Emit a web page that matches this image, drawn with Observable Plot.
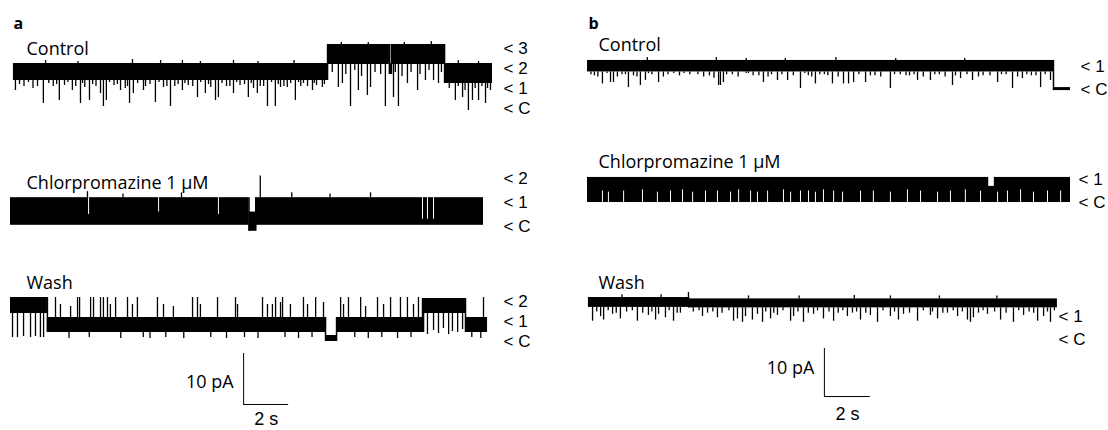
<!DOCTYPE html>
<html><head><meta charset="utf-8">
<script src="https://cdn.jsdelivr.net/npm/d3@7"></script>
<script src="https://cdn.jsdelivr.net/npm/@observablehq/plot@0.6"></script>
<style>
body{margin:0;background:#fff;}
#fig{position:relative;width:1108px;height:430px;overflow:hidden;background:#fff;}
#fig > div{position:absolute;top:0;}
g[aria-label="title"] text, g[aria-label="scalelabel"] text{letter-spacing:1.5px;}
</style></head><body>
<div id="fig"><div id="pa" style="left:0px"></div><div id="pb" style="left:560px"></div></div>
<script>
// ---------- DATA (time in s, amplitude in channel levels; unit = pA per open channel) ----------
// segments: [tStart, tEnd, level, bandTop, bandBottom]
const ctrlA_levels = [[0.13,14.09,2,2.15,1.3],[14.09,16.84,3,3.1,2.1],[16.84,16.93,2,2.15,1.6],[16.93,19.29,3,3.1,2.1],[19.29,21.42,2,2.15,1.15]];
// brief closures: [t, level reached]
const ctrlA_dips = [[0.22,0.8],[1.46,0.15],[2.17,0.3],[2.75,0.8],[3.11,0.15],[3.51,0.3],[4.0,0.65],[4.13,0],[4.26,0.3],[4.89,0.8],[5.29,0.15],[5.46,0.65],[5.91,0.8],[6.44,0.2],[7.11,0],[7.64,0.8],[8.31,0.45],[8.66,0.65],[9.11,0.3],[9.24,0.45],[9.91,0.65],[10.57,0.45],[10.97,0.65],[11.42,0],[11.77,0],[12.0,0.95],[12.66,0.3],[13.02,1.15],[13.42,0.8],[13.86,0.95],
[0.6,1.0],[1.0,0.9],[1.9,1.0],[2.4,1.05],[3.3,0.95],[3.8,1.0],[4.6,1.05],[5.1,0.9],[6.0,1.0],[6.8,0.95],[7.3,1.0],[7.9,1.05],[8.9,0.95],[9.6,1.0],[10.2,1.05],[10.8,0.9],[11.1,1.0],[12.3,0.95],[12.9,1.0],[13.6,1.05],
[0.4,1.1],[0.8,1.2],[1.2,1.0],[1.7,1.15],[2.05,1.1],[2.55,1.2],[2.9,1.0],[3.2,1.15],[3.65,1.1],[4.4,1.2],[4.75,1.1],[5.2,1.0],[5.65,1.15],[6.2,1.1],[6.6,1.2],[6.95,1.0],[7.45,1.1],[7.75,1.15],[8.1,1.0],[8.45,1.2],[8.8,1.1],[9.4,1.15],[9.75,1.0],[10.05,1.2],[10.4,1.1],[10.7,1.15],[11.25,1.0],[11.6,1.2],[11.9,1.1],[12.15,1.0],[12.45,1.15],[12.8,1.2],[13.2,1.0],[13.5,1.15],[13.95,1.1],
[14.57,0.95],[14.75,1.15],[15.11,0],[15.46,0.8],[15.86,0.55],[16.0,0.95],[16.66,0],[17.02,0.45],[17.24,0],[17.64,1.15],[18.09,0.8],[18.44,1.3],[18.8,1.3],[19.02,1.15],
[14.3,1.7],[14.9,1.6],[15.3,1.8],[15.6,1.5],[16.2,1.7],[16.45,1.6],[17.1,1.7],[17.4,1.5],[17.8,1.7],[18.2,1.6],[18.6,1.8],[19.15,1.7],
[19.77,0.3],[20.09,0.45],[20.35,-0.2],[20.53,0.3],[20.8,0.3],[21.11,0.15],[21.33,0.8],
[19.5,0.9],[19.9,1.0],[20.2,0.8],[20.65,0.9],[20.95,1.0],[21.2,0.9]];
// small noise excursions above the open level: [t, level reached]
const ctrlA_ups = [[1.56,2.3],[3.0,2.25],[5.42,2.35],[6.67,2.3],[7.64,2.3],[8.44,2.25],[9.91,2.3],[11.0,2.25],[12.6,2.3],[14.7,3.2],[15.9,3.2],[17.5,3.2],[18.7,3.25],[19.9,2.3],[20.8,2.25]];
const ctrlA_ticks = [3,2,1,0];
const ctrlA_tickLabels = ["< 3","< 2","< 1","< C"];

const chlorA_levels = [[0,10.6,1,1.2,0.05],[10.6,10.9,0,0.6,-0.2],[10.9,21.02,1,1.2,0.05]];
const chlorA_ups = [[3.42,1.45],[5.0,1.35],[7.6,1.4],[11.1,2.1],[12.5,1.4],[14.2,1.35],[16.0,1.4]];
// short periods without flicker: [t, from level, to level]
const chlorA_gaps = [[3.47,1.2,0.5],[6.58,1.2,0.6],[9.24,1.2,0.5],[18.31,1.2,0.3],[18.53,1.2,0.3],[18.8,1.2,0.3]];
const chlorA_ticks = [2,1,0];
const chlorA_tickLabels = ["< 2","< 1","< C"];

const washA_levels = [[0,1.64,2,2.05,1.25],[1.64,14.0,1,1.05,0.3],[14.0,14.49,0,0.15,-0.15],[14.49,18.31,1,1.05,0.3],[18.31,20.22,2,2.0,1.25],[20.22,21.2,1,1.05,0.3]];
const washA_dips = [[0.09,0.05],[0.31,0.05],[0.58,0.1],[0.89,0.05],[1.11,0.1],[1.33,0.05],[1.47,0.05],
[2.6,0.0],[3.5,0.05],[4.9,0.0],[5.9,0.05],[6.2,0.0],[6.9,0.05],[7.7,0.0],[8.9,0.05],[9.6,0],[10.4,0.05],[11.0,0],[12.2,0.05],[12.8,0],[13.4,0.05],[15.3,0.05],[15.9,0],[16.5,0.05],[17.2,0],[17.8,0.05],
[18.36,0.3],[18.53,0.2],[18.8,0.4],[19.02,0.25],[19.24,0.5],[19.47,0.2],[19.64,0.35],[19.87,0.3],[20.09,0.45],[20.5,0.05],[20.9,0]];
const washA_ups = [[2.0,2.05],[2.22,1.7],[2.67,1.6],[2.98,2.05],[3.07,2.05],[3.56,2.05],[3.69,2.05],[4.0,2.05],[4.13,2.05],[4.31,2.05],[4.44,1.7],[4.67,2.05],[5.2,2.05],[5.42,1.7],[5.64,2.05],[6.53,2.05],[6.8,1.7],[7.24,1.6],[8.09,2.05],[8.31,2.05],[8.44,1.7],[9.2,2.05],[10.0,2.05],[10.09,1.7],[11.2,2.05],[11.42,1.7],[11.64,1.7],[11.78,2.05],[12.0,1.8],[12.09,2.05],[12.44,1.7],[13.02,2.05],[13.2,1.7],[13.56,2.05],[13.91,1.8],[14.67,2.05],[14.8,1.7],[15.02,2.05],[15.56,2.05],[15.78,1.6],[16.31,2.05],[16.58,1.7],[16.89,2.05],[17.33,2.05],[17.64,2.05],[17.91,1.7],[18.13,2.05],[21.02,2.05]];
const washA_ticks = [2,1,0];
const washA_tickLabels = ["< 2","< 1","< C"];

const ctrlB_levels = [[0,20.26,1,1.22,0.72],[20.26,21.0,0,0.04,-0.09]];
const ctrlB_dips = [[0.65,0.2],[1.0,0.26],[1.13,0.26],[1.78,0.04],[2.3,0.13],[2.52,0.35],[3.09,0.26],[5.7,0.13],[5.78,0.13],[5.91,0.26],[7.65,0.26],[8.26,0.35],[8.7,0.35],[9.26,0],[9.91,0.2],[10.65,0.2],[11.13,0.2],[11.35,0.2],[11.57,0.26],[12.09,0.26],[13.17,0],[14.35,0.35],[14.91,0.35],[15.87,0.13],[16.22,0.43],[16.74,0.35],[17.83,0.26],[18.48,0],[18.91,0.43],[19.7,0.04],[20.13,0.35],
[0.3,0.55],[1.5,0.6],[2.0,0.55],[2.8,0.6],[3.5,0.6],[4.2,0.65],[4.8,0.6],[5.3,0.55],[6.3,0.6],[6.9,0.65],[7.2,0.55],[8.0,0.6],[9.6,0.55],[10.3,0.6],[12.5,0.55],[13.6,0.6],[14.0,0.55],[15.3,0.6],[17.2,0.55],[18.2,0.6],[19.3,0.55],
[0.15,0.6],[0.45,0.5],[0.85,0.65],[1.3,0.5],[1.65,0.6],[2.15,0.5],[2.65,0.65],[3.3,0.5],[3.75,0.65],[4.0,0.55],[4.45,0.6],[5.05,0.5],[5.5,0.45],[6.05,0.6],[6.55,0.5],[7.0,0.65],[7.45,0.55],[7.85,0.5],[8.45,0.6],[8.95,0.55],[9.45,0.65],[9.75,0.5],[10.1,0.6],[10.45,0.55],[10.9,0.5],[11.8,0.6],[12.3,0.55],[12.75,0.5],[13.35,0.6],[13.85,0.55],[14.2,0.6],[14.6,0.5],[15.1,0.6],[15.55,0.5],[16.0,0.55],[16.5,0.6],[17.0,0.5],[17.5,0.55],[18.0,0.6],[18.7,0.5],[19.1,0.6],[19.5,0.55],[19.9,0.6]];
const ctrlB_ups = [[2.6,1.35],[5.6,1.35],[6.9,1.3],[8.6,1.3],[10.8,1.35],[13.4,1.3],[16.4,1.3]];
const ctrlB_ticks = [1,0];
const ctrlB_tickLabels = ["< 1","< C"];

const chlorB_levels = [[0,17.39,1,1.09,0],[17.39,17.7,1,0.7,0],[17.7,21.0,1,1.09,0]];
const chlorB_gaps = [[0.65,0,0.5],[0.91,0,0.45],[1.57,0,0.5],[2.39,0,0.55],[3.04,0,0.45],[3.61,0,0.5],[4.13,0,0.55],[4.57,0,0.45],[5.13,0,0.5],[5.65,0,0.5],[6.22,0,0.45],[6.57,0,0.55],[7.09,0,0.5],[7.39,0,0.45],[7.83,0,0.5],[8.52,0,0.55],[8.83,0,0.45],[9.26,0,0.5],[9.61,0,0.5],[9.91,0,0.45],[10.26,0,0.55],[10.7,0,0.5],[11.09,0,0.45],[11.87,0,0.5],[12.43,0,0.5],[13.17,0,0.45],[13.91,0,0.55],[14.48,0,0.5],[15.22,0,0.45],[15.78,0,0.5],[16.43,0,0.55],[17.09,0,0.5],[17.83,0,0.45],[18.26,0,0.5],[18.83,0,0.55],[19.39,0,0.45],[20.0,0,0.5],[20.57,0,0.5]];
const chlorB_ticks = [1,0];
const chlorB_tickLabels = ["< 1","< C"];

const washB_levels = [[0.04,4.4,1,1.13,0.7],[4.4,20.43,1,1.07,0.68]];
const washB_ups = [[4.39,1.35],[13.17,1.2],[1.5,1.25],[3.2,1.25],[7.0,1.2],[9.2,1.2],[11.6,1.22],[15.3,1.2],[17.8,1.2]];
const washB_dips = [[0.22,0.1],[0.57,0.3],[0.7,0.15],[1.09,0.4],[1.43,0.2],[2.17,0.1],[2.65,0.35],[2.96,0.15],[3.09,0.4],[3.39,0.25],[3.74,0.1],[4.04,0.45],[5.0,0.3],[5.22,0.45],[5.65,0.25],[6.35,0.1],[6.52,0.2],[6.74,0.05],[6.87,0.3],[7.17,0.15],[7.39,0.4],[7.61,0.05],[7.96,0.2],[8.26,0.35],[8.83,0.1],[8.96,0.3],[9.39,0.05],[9.83,0.4],[10.26,0.2],[10.7,0.1],[11.3,0.3],[11.52,0.45],[11.87,0.15],[12.3,0.35],[12.61,0.05],[13.17,0.3],[13.52,0.15],[13.74,0.4],[14.35,0.1],[14.91,0.35],[15.22,0.2],[15.65,0.45],[16.09,0.3],[16.52,0.15],[16.65,0.05],[16.78,0.25],[17.39,0.4],[17.96,0.15],[18.52,0.05],[18.96,0.35],[19.57,0.1],[19.83,0.3],[20.13,0.05],
[0.4,0.5],[0.9,0.55],[1.25,0.45],[1.7,0.5],[1.95,0.55],[2.4,0.45],[2.8,0.5],[3.55,0.55],[3.9,0.45],[4.6,0.5],[4.85,0.55],[5.45,0.5],[5.85,0.45],[6.15,0.55],[7.75,0.5],[8.1,0.45],[8.5,0.55],[9.15,0.5],[9.6,0.45],[10.0,0.55],[10.5,0.5],[10.9,0.45],[11.1,0.55],[11.7,0.5],[12.1,0.45],[12.85,0.55],[13.35,0.5],[14.0,0.45],[14.6,0.55],[15.0,0.5],[15.45,0.45],[15.9,0.55],[16.3,0.5],[17.0,0.45],[17.2,0.55],[17.7,0.5],[18.2,0.45],[18.75,0.55],[19.2,0.5],[19.4,0.45],[20.0,0.5],[20.3,0.55]];
const washB_ticks = [1,0];
const washB_tickLabels = ["< 1","< C"];

const titles = ["Control","Chlorpromazine 1 μM","Wash"];
const panelLetters = ["a","b"];
const scaleAmp = 10;   // pA
const scaleTime = 2;   // s
const scaleLabels = ["10 pA","2 s"];

// ---------- LAYOUT ----------
const PA = {el:"#pa", letter:panelLetters[0], width:560, ml:10, mr:68, dur:21.42, k:5.1, titleDx:16, letterDx:3,
  bar:{t:10.36, v:5.1, ampDy:3.5, timeDy:15},
  traces:[
    {title:titles[0], unit:3.92, cpx:106, levels:ctrlA_levels, dips:ctrlA_dips, ups:ctrlA_ups, ticks:ctrlA_ticks, labels:ctrlA_tickLabels, pad:11, ldy:2},
    {title:titles[1], unit:4.71, cpx:226, levels:chlorA_levels, ups:chlorA_ups, gaps:chlorA_gaps, ticks:chlorA_ticks, labels:chlorA_tickLabels, pad:11, ldy:0},
    {title:titles[2], unit:3.92, cpx:338, levels:washA_levels, dips:washA_dips, ups:washA_ups, ticks:washA_ticks, labels:washA_tickLabels, pad:11, ldy:3}
  ]};
const PB = {el:"#pb", letter:panelLetters[1], width:548, ml:27, mr:38, dur:21.0, k:4.8, titleDx:11, letterDx:1,
  bar:{t:10.3, v:7.08, ampDy:-4, timeDy:18},
  traces:[
    {title:titles[0], unit:4.79, cpx:88, levels:ctrlB_levels, dips:ctrlB_dips, ups:ctrlB_ups, ticks:ctrlB_ticks, labels:ctrlB_tickLabels, pad:10, ldy:1.5},
    {title:titles[1], unit:4.79, cpx:202, levels:chlorB_levels, gaps:chlorB_gaps, ticks:chlorB_ticks, labels:chlorB_tickLabels, pad:8, ldy:0},
    {title:titles[2], unit:4.79, cpx:323, levels:washB_levels, dips:washB_dips, ups:washB_ups, ticks:washB_ticks, labels:washB_tickLabels, pad:-12, ldy:16}
  ]};

function traceMarks(tr, P) {
  const base = (430 - tr.cpx) / P.k;
  const Y = v => base + v * tr.unit;
  const segAt = t => tr.levels.find(s => t >= s[0] && t <= s[1]) || tr.levels[0];
  const m = [];
  m.push(Plot.rect(tr.levels, {x1:d=>d[0], x2:d=>d[1], y1:d=>Y(d[4]), y2:d=>Y(d[3]), fill:"black"}));
  const trans = tr.levels.slice(1).map((s,i)=>({t:s[0], a:tr.levels[i], b:s}));
  m.push(Plot.ruleX(trans, {x:"t", y1:d=>Y(Math.min(d.a[4],d.b[4])), y2:d=>Y(Math.max(d.a[3],d.b[3])), stroke:"black", strokeWidth:1.5}));
  if (tr.dips) m.push(Plot.ruleX(tr.dips, {x:d=>d[0], y1:d=>Y(segAt(d[0])[4]), y2:d=>Y(d[1]), stroke:"black", strokeWidth:1.3}));
  if (tr.ups) m.push(Plot.ruleX(tr.ups, {x:d=>d[0], y1:d=>Y(segAt(d[0])[3]), y2:d=>Y(d[1]), stroke:"black", strokeWidth:1.3}));
  if (tr.gaps) m.push(Plot.ruleX(tr.gaps, {x:d=>d[0], y1:d=>Y(d[1]), y2:d=>Y(d[2]), stroke:"white", strokeWidth:1}));
  const lab = new Map(tr.ticks.map((n,i)=>[Y(n), tr.labels[i]]));
  m.push(Plot.axisY([...lab.keys()], {anchor:"right", tickSize:0, tickPadding:tr.pad, tickFormat:v=>lab.get(v), fontSize:17, fontFamily:"'Liberation Sans', Arial, sans-serif", dy:tr.ldy, label:null}));
  const top = tr.levels[0][3];
  m.push(Plot.text([{t:0, v:Y(top), s:tr.title}], {x:"t", y:"v", text:"s", textAnchor:"start", lineAnchor:"bottom", dx:P.titleDx, dy:-9, fontSize:18, ariaLabel:"title"}));
  return m;
}

function panel(P) {
  let marks = [];
  for (const tr of P.traces) marks = marks.concat(traceMarks(tr, P));
  const b = P.bar;
  marks.push(Plot.ruleX([b], {x:"t", y1:"v", y2:d=>d.v+scaleAmp, stroke:"black", strokeWidth:1}));
  marks.push(Plot.ruleY([b], {y:"v", x1:"t", x2:d=>d.t+scaleTime, stroke:"black", strokeWidth:1}));
  marks.push(Plot.text([b], {x:"t", y:d=>d.v+scaleAmp/2, text:()=>scaleLabels[0], textAnchor:"end", dx:-10, dy:b.ampDy, fontSize:18, ariaLabel:"scalelabel"}));
  marks.push(Plot.text([b], {x:d=>d.t+scaleTime/2, y:"v", text:()=>scaleLabels[1], dy:b.timeDy, fontSize:18, fontFamily:"'Liberation Sans', Arial, sans-serif", ariaLabel:"scalelabel"}));
  marks.push(Plot.text([P.letter], {frameAnchor:"top-left", text:d=>d, dx:P.letterDx, dy:28, lineAnchor:"bottom", textAnchor:"start", fontSize:16, fontWeight:"bold"}));
  const svg = Plot.plot({
    width:P.width, height:430, marginLeft:P.ml, marginRight:P.mr, marginTop:0, marginBottom:0,
    x:{domain:[0,P.dur], axis:null},
    y:{domain:[0,430/P.k], range:[430,0], axis:null},
    style:{fontFamily:"'Open Sans', 'DejaVu Sans', sans-serif", background:"transparent", color:"black", overflow:"visible"},
    marks
  });
  document.querySelector(P.el).appendChild(svg);
}
panel(PA);
panel(PB);
</script>
</body></html>
